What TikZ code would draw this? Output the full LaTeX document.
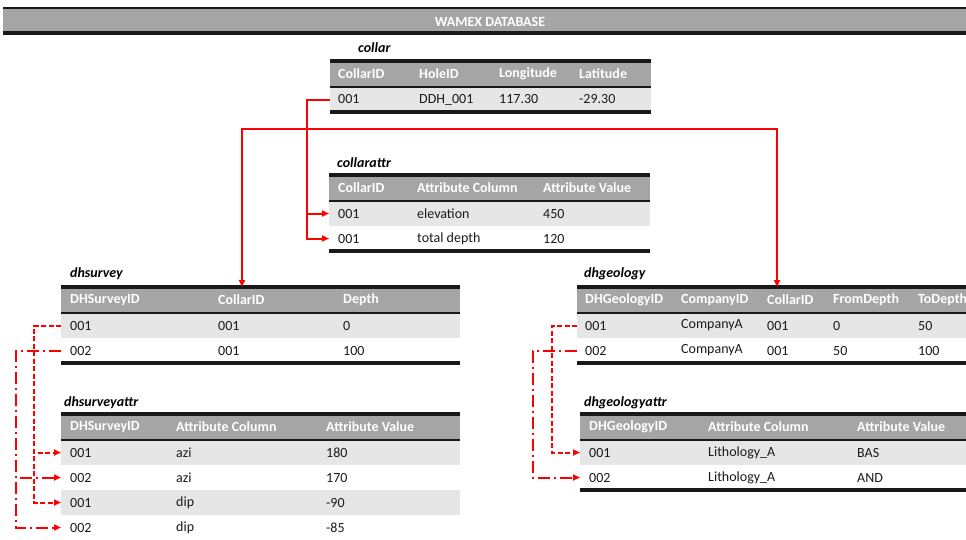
\documentclass[tikz,border=0pt]{standalone}
\usepackage{fontspec}
\setmainfont{Carlito}
\usetikzlibrary{arrows.meta}
\definecolor{hdrgray}{HTML}{A5A5A5}
\definecolor{rowgray}{HTML}{E7E6E6}
\definecolor{txt}{HTML}{1A1A1A}
\definecolor{lnred}{HTML}{FF0000}
\tikzset{
  cell/.style={anchor=west,inner sep=0pt,text=txt,font=\fontsize{14}{16}\selectfont},
  hcell/.style={anchor=west,inner sep=0pt,text=white,font=\fontsize{14}{16}\selectfont\bfseries},
  ttl/.style={anchor=west,inner sep=0pt,text=black,font=\fontsize{14}{16}\selectfont\bfseries\itshape},
  tline/.style={line width=3.2pt,black!90},
  mline/.style={line width=2pt,black!90},
  rl/.style={draw=lnred,line width=2pt,-{Triangle[length=7pt,width=6pt]}},
  dsh/.style={rl,dash pattern=on 5pt off 2.5pt},
  dshdot/.style={rl,dash pattern=on 12pt off 4pt on 2pt off 4pt},
}
\newcommand\dbtable[5]{%
  \fill[hdrgray] (#1,#3) rectangle (#2,{#3+26});
  \foreach \i in {1,...,#4}{\ifodd\i\relax \fill[rowgray] (#1,{#3+26+(\i-1)*25}) rectangle (#2,{#3+26+\i*25});\fi}
  \draw[tline] (#1,#3) -- (#2,#3);
  \draw[mline] (#1,{#3+26}) -- (#2,{#3+26});
  \ifnum#5=1 \draw[tline] (#1,{#3+26+#4*25}) -- (#2,{#3+26+#4*25});\fi
}
\begin{document}
\begin{tikzpicture}[x=1pt,y=-1pt]
\useasboundingbox (0,0) rectangle (966,539);
% top banner
\fill[hdrgray] (3,9) rectangle (966,32);
\draw[line width=2.2pt,black!90] (3,8.3) -- (966,8.3);
\draw[line width=3.2pt,black!90] (3,33) -- (966,33);
\node[inner sep=0pt,text=white,font=\fontsize{14}{16}\selectfont\bfseries] (banner) at (490,21.5) {WAMEX DATABASE};

% ---------- collar ----------
\node[ttl] (t-collar) at (358,48) {collar};
\dbtable{330}{651}{61}{1}{1}
\node[hcell] (c-h1) at (338,74) {CollarID};
\node[hcell] (c-h2) at (419,74) {HoleID};
\node[hcell] (c-h3) at (499,74) {Longitude};
\node[hcell] (c-h4) at (579,74) {Latitude};
\node[cell] (c-r1a) at (338,99.5) {001};
\node[cell] (c-r1b) at (419,99.5) {DDH\_001};
\node[cell] (c-r1c) at (499,99.5) {117.30};
\node[cell] (c-r1d) at (579,99.5) {-29.30};

% ---------- collarattr ----------
\node[ttl] (t-ca) at (337,163) {collarattr};
\dbtable{329}{650}{175}{2}{1}
\node[hcell] (ca-h1) at (338,188) {CollarID};
\node[hcell] (ca-h2) at (417,188) {Attribute Column};
\node[hcell] (ca-h3) at (543,188) {Attribute Value};
\node[cell] (ca-r1a) at (338,213.5) {001};
\node[cell] (ca-r1b) at (417,213.5) {elevation};
\node[cell] (ca-r1c) at (543,213.5) {450};
\node[cell] (ca-r2a) at (338,238.5) {001};
\node[cell] (ca-r2b) at (417,238.5) {total depth};
\node[cell] (ca-r2c) at (543,238.5) {120};

% ---------- dhsurvey ----------
\node[ttl] (t-sv) at (70,274) {dhsurvey};
\dbtable{61}{460}{287}{2}{1}
\node[hcell] (sv-h1) at (70,300) {DHSurveyID};
\node[hcell] (sv-h2) at (218,300) {CollarID};
\node[hcell] (sv-h3) at (343,300) {Depth};
\node[cell] (sv-r1a) at (70,325.5) {001};
\node[cell] (sv-r1b) at (218,325.5) {001};
\node[cell] (sv-r1c) at (343,325.5) {0};
\node[cell] (sv-r2a) at (70,350.5) {002};
\node[cell] (sv-r2b) at (218,350.5) {001};
\node[cell] (sv-r2c) at (343,350.5) {100};

% ---------- dhsurveyattr ----------
\node[ttl] (t-sa) at (64,403) {dhsurveyattr};
\dbtable{61}{460}{414}{4}{0}
\node[hcell] (sa-h1) at (70,427) {DHSurveyID};
\node[hcell] (sa-h2) at (176,427) {Attribute Column};
\node[hcell] (sa-h3) at (326,427) {Attribute Value};
\node[cell] (sa-r1a) at (70,452.5) {001};
\node[cell] (sa-r1b) at (176,452.5) {azi};
\node[cell] (sa-r1c) at (326,452.5) {180};
\node[cell] (sa-r2a) at (70,477.5) {002};
\node[cell] (sa-r2b) at (176,477.5) {azi};
\node[cell] (sa-r2c) at (326,477.5) {170};
\node[cell] (sa-r3a) at (70,502.5) {001};
\node[cell] (sa-r3b) at (176,502.5) {dip};
\node[cell] (sa-r3c) at (326,502.5) {-90};
\node[cell] (sa-r4a) at (70,527.5) {002};
\node[cell] (sa-r4b) at (176,527.5) {dip};
\node[cell] (sa-r4c) at (326,527.5) {-85};

% ---------- dhgeology ----------
\node[ttl] (t-sg) at (584,274) {dhgeology};
\dbtable{577}{966}{287}{2}{1}
\node[hcell] (sg-h1) at (585,300) {DHGeologyID};
\node[hcell] (sg-h2) at (681,300) {CompanyID};
\node[hcell] (sg-h3) at (767,300) {CollarID};
\node[hcell] (sg-h4) at (833,300) {FromDepth};
\node[hcell] (sg-h5) at (918,300) {ToDepth};
\node[cell] (sg-r1a) at (585,325.5) {001};
\node[cell] (sg-r1b) at (681,325.5) {CompanyA};
\node[cell] (sg-r1c) at (767,325.5) {001};
\node[cell] (sg-r1d) at (833,325.5) {0};
\node[cell] (sg-r1e) at (918,325.5) {50};
\node[cell] (sg-r2a) at (585,350.5) {002};
\node[cell] (sg-r2b) at (681,350.5) {CompanyA};
\node[cell] (sg-r2c) at (767,350.5) {001};
\node[cell] (sg-r2d) at (833,350.5) {50};
\node[cell] (sg-r2e) at (918,350.5) {100};

% ---------- dhgeologyattr ----------
\node[ttl] (t-ga) at (584,403) {dhgeologyattr};
\dbtable{580}{966}{414}{2}{1}
\node[hcell] (ga-h1) at (589,427) {DHGeologyID};
\node[hcell] (ga-h2) at (708,427) {Attribute Column};
\node[hcell] (ga-h3) at (857,427) {Attribute Value};
\node[cell] (ga-r1a) at (589,452.5) {001};
\node[cell] (ga-r1b) at (708,452.5) {Lithology\_A};
\node[cell] (ga-r1c) at (857,452.5) {BAS};
\node[cell] (ga-r2a) at (589,477.5) {002};
\node[cell] (ga-r2b) at (708,477.5) {Lithology\_A};
\node[cell] (ga-r2c) at (857,477.5) {AND};

% ---------- connector end points ----------
\coordinate (cL) at (330,99.5);
\coordinate (caL1) at (329,213.5);
\coordinate (caL2) at (329,238.5);
\coordinate (link) at (307,129);
\coordinate (svTop) at (242,287);
\coordinate (sgTop) at (777,287);
\coordinate (svL1) at (61,325.5);
\coordinate (svL2) at (61,350.5);
\coordinate (saL1) at (61,452.5);
\coordinate (saL2) at (61,477.5);
\coordinate (saL3) at (61,502.5);
\coordinate (saL4) at (61,527.5);
\coordinate (sgL1) at (577,325.5);
\coordinate (sgL2) at (577,350.5);
\coordinate (gaL1) at (580,452.5);
\coordinate (gaL2) at (580,477.5);

% ---------- connectors ----------
\draw[rl] (cL) -- ++(-23,0) |- (caL1);
\draw[rl] (cL) -- ++(-23,0) |- (caL2);
\draw[rl] (link) -| (svTop);
\draw[rl] (link) -| (sgTop);

\draw[dsh] (svL1) -- ++(-27,0) |- (saL1);
\draw[dsh] (svL1) -- ++(-27,0) |- (saL3);
\draw[dshdot] (svL2) -- ++(-45,0) |- (saL4);
\draw[dshdot] (svL2) -- ++(-45,0) |- (saL2);

\draw[dsh] (sgL1) -- ++(-25,0) |- (gaL1);
\draw[dshdot] (sgL2) -- ++(-44,0) |- (gaL2);
\end{tikzpicture}
\end{document}
